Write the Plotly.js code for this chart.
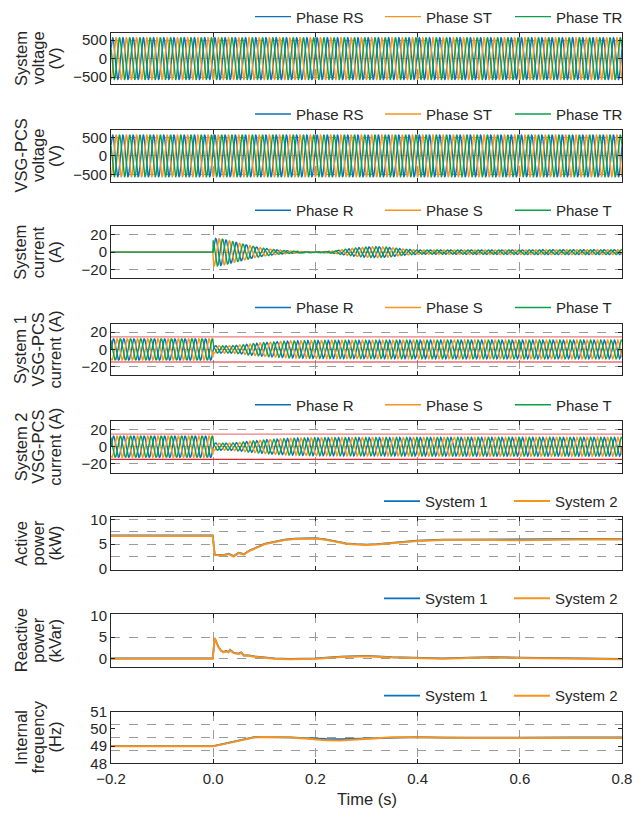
<!DOCTYPE html>
<html><head><meta charset="utf-8">
<script src="https://cdn.plot.ly/plotly-3.0.1.min.js"></script>
<style>html,body{margin:0;padding:0;background:#fff}</style>
</head><body><div id="chart" style="width:641px;height:814px"></div>
<script>
// ---------------- DATA ----------------
const timeRange = [-0.2, 0.8];                 // s
const timeTicks = [-0.2, 0.0, 0.2, 0.4, 0.6, 0.8];
const gridFrequency = 50;                       // Hz, carrier of the AC waveforms
const phaseNamesV = ['Phase RS', 'Phase ST', 'Phase TR'];
const phaseNamesI = ['Phase R', 'Phase S', 'Phase T'];
const systemNames = ['System 1', 'System 2'];

// peak envelopes of the three-phase waveforms
const sysVoltTime = [-0.2, 0.8];
const sysVoltPeak = [565, 565];                 // V
const vsgVoltTime = [-0.2, 0.8];
const vsgVoltPeak = [565, 565];                 // V

const sysCurTime = [-0.2, -0.0005, 0.0, 0.01, 0.02, 0.04, 0.06, 0.08, 0.10, 0.12, 0.14, 0.16, 0.18, 0.20, 0.22, 0.24, 0.26, 0.28, 0.30, 0.32, 0.34, 0.36, 0.38, 0.40, 0.45, 0.50, 0.60, 0.70, 0.80];
const sysCurPeak = [0, 0, 16, 16, 15, 12, 9.3, 6.5, 4.5, 3, 2, 1.2, 0.8, 0.6, 1, 2, 3.5, 5, 6, 6.4, 5.8, 4.5, 3.2, 2.6, 2.5, 2.6, 2.7, 2.8, 2.8];

const vsg1CurTime = [-0.2, -0.0005, 0.0, 0.01, 0.03, 0.05, 0.07, 0.10, 0.13, 0.15, 0.20, 0.25, 0.30, 0.40, 0.50, 0.60, 0.70, 0.80];
const vsg1CurPeak = [12.3, 12.3, 4.6, 4.2, 4.2, 5.0, 6.4, 8.0, 9.2, 9.9, 10.4, 10.6, 10.6, 10.8, 10.9, 10.9, 10.9, 10.9];
const vsg2CurTime = [-0.2, -0.0005, 0.0, 0.01, 0.03, 0.05, 0.07, 0.10, 0.13, 0.15, 0.20, 0.25, 0.30, 0.40, 0.50, 0.60, 0.70, 0.80];
const vsg2CurPeak = [12.3, 12.3, 4.5, 4.1, 4.1, 4.9, 6.3, 7.9, 9.1, 9.8, 10.4, 10.6, 10.6, 10.8, 10.9, 10.9, 10.9, 10.9];
const currentLimit = 14.6;                      // A (red limit lines)

// active power (kW)
const activeTime = [-0.2, -0.1, -0.001, 0.003, 0.01, 0.02, 0.03, 0.04, 0.05, 0.06, 0.07, 0.08, 0.09, 0.10, 0.12, 0.14, 0.16, 0.18, 0.20, 0.22, 0.24, 0.26, 0.28, 0.30, 0.32, 0.34, 0.36, 0.38, 0.40, 0.45, 0.50, 0.55, 0.60, 0.65, 0.70, 0.75, 0.80];
const activeSys1 = [6.8, 6.8, 6.8, 2.9, 2.8, 2.8, 3.1, 2.6, 3.3, 3.0, 3.7, 4.1, 4.6, 5.1, 5.6, 5.95, 6.15, 6.25, 6.25, 6.0, 5.6, 5.2, 5.05, 4.95, 5.05, 5.2, 5.4, 5.6, 5.75, 5.95, 6.0, 5.95, 5.95, 6.0, 6.1, 6.1, 6.05];
const activeSys2 = [6.7, 6.7, 6.7, 2.8, 2.7, 2.7, 3.0, 2.5, 3.2, 2.9, 3.6, 4.0, 4.5, 5.0, 5.5, 5.85, 6.05, 6.15, 6.15, 5.9, 5.5, 5.1, 4.95, 4.85, 4.95, 5.1, 5.3, 5.5, 5.65, 5.85, 5.9, 5.85, 5.8, 5.9, 6.0, 6.0, 5.95];

// reactive power (kVar)
const reactiveTime = [-0.2, -0.001, 0.003, 0.006, 0.01, 0.015, 0.02, 0.025, 0.03, 0.033, 0.04, 0.05, 0.055, 0.06, 0.07, 0.08, 0.09, 0.10, 0.12, 0.15, 0.20, 0.25, 0.30, 0.35, 0.40, 0.45, 0.50, 0.55, 0.60, 0.70, 0.80];
const reactiveSys1 = [0.1, 0.1, 4.7, 3.8, 2.8, 1.9, 1.6, 1.8, 1.6, 2.1, 1.4, 1.2, 1.5, 0.8, 0.8, 0.6, 0.5, 0.3, 0.1, 0.0, 0.1, 0.5, 0.7, 0.4, 0.2, 0.1, 0.3, 0.4, 0.3, 0.2, 0.0];
const reactiveSys2 = [0.0, 0.0, 4.8, 3.8, 2.8, 1.9, 1.5, 1.7, 1.5, 2.0, 1.3, 1.1, 1.4, 0.7, 0.7, 0.5, 0.4, 0.2, 0.0, -0.1, 0.0, 0.4, 0.6, 0.3, 0.1, 0.0, 0.2, 0.3, 0.2, 0.1, -0.1];

// internal frequency (Hz)
const freqTime = [-0.2, 0.0, 0.02, 0.04, 0.06, 0.08, 0.10, 0.12, 0.15, 0.18, 0.20, 0.22, 0.25, 0.28, 0.30, 0.33, 0.35, 0.40, 0.45, 0.50, 0.60, 0.70, 0.80];
const freqSys1 = [49.0, 49.0, 49.13, 49.27, 49.42, 49.52, 49.53, 49.53, 49.51, 49.47, 49.44, 49.42, 49.41, 49.43, 49.46, 49.50, 49.52, 49.52, 49.50, 49.49, 49.50, 49.51, 49.51];
const freqSys2 = [49.0, 49.0, 49.12, 49.25, 49.40, 49.50, 49.53, 49.53, 49.50, 49.44, 49.38, 49.34, 49.33, 49.38, 49.43, 49.49, 49.52, 49.52, 49.49, 49.47, 49.48, 49.48, 49.48];

// ---------------- STYLE / LAYOUT ----------------
const W = 641, H = 814;
const plotLeft = 111, plotRight = 622;
const panelTop = [27, 125, 222, 320, 418, 515, 613, 711];
const panelBot = [79, 177, 274, 372, 470, 568, 666, 763];
const colors = ['#0A72BA', '#F7931E', '#0DA04B'];
const txt = '#262626';
const FONT = 'Liberation Sans, Arial, Helvetica, sans-serif';

// sample grid for the AC waveforms
const sampleStep = 0.0004;
const tSamples = [];
for (let i = 0; ; i++) { const t = timeRange[0] + i * sampleStep; if (t > timeRange[1] + 1e-9) break; tSamples.push(+t.toFixed(5)); }
function envAt(tt, vv, t) {
  if (t <= tt[0]) return vv[0];
  for (let i = 1; i < tt.length; i++) if (t <= tt[i]) { const f = (t - tt[i-1]) / (tt[i] - tt[i-1]); return vv[i-1] + f * (vv[i] - vv[i-1]); }
  return vv[vv.length - 1];
}
function threePhase(tt, vv, k, phase0) {
  return tSamples.map(t => envAt(tt, vv, t) * Math.sin(2 * Math.PI * gridFrequency * t + phase0 - k * 2 * Math.PI / 3));
}

const traces = [];
function addThree(idx, tt, vv, names, phase0) {
  for (let k = 0; k < 3; k++) traces.push({
    type: 'scatter', mode: 'lines', x: tSamples, y: threePhase(tt, vv, k, phase0), name: names[k],
    xaxis: 'x' + (idx === 1 ? '' : idx), yaxis: 'y' + (idx === 1 ? '' : idx),
    line: {color: colors[k], width: 1.4}, legend: idx === 1 ? 'legend' : 'legend' + idx, hoverinfo: 'skip'
  });
}
function addTwo(idx, tt, v1, v2) {
  [v1, v2].forEach((v, k) => traces.push({
    type: 'scatter', mode: 'lines', x: tt, y: v, name: systemNames[k],
    xaxis: 'x' + idx, yaxis: 'y' + idx,
    line: {color: colors[k], width: k === 0 ? 1.7 : 2}, legend: 'legend' + idx
  }));
}
function addLimit(idx) {
  [[currentLimit, '#F07C7C'], [-currentLimit, '#E3262B']].forEach(([v, c]) => traces.push({
    type: 'scatter', mode: 'lines', x: timeRange, y: [v, v], showlegend: false,
    xaxis: 'x' + idx, yaxis: 'y' + idx, line: {color: c, width: 1.2}, hoverinfo: 'skip'
  }));
}
addThree(1, sysVoltTime, sysVoltPeak, phaseNamesV, Math.PI / 6);
addThree(2, vsgVoltTime, vsgVoltPeak, phaseNamesV, Math.PI / 6);
addThree(3, sysCurTime, sysCurPeak, phaseNamesI, 0);
addThree(4, vsg1CurTime, vsg1CurPeak, phaseNamesI, 0);
addLimit(4);
addThree(5, vsg2CurTime, vsg2CurPeak, phaseNamesI, 0);
addLimit(5);
addTwo(6, activeTime, activeSys1, activeSys2);
addTwo(7, reactiveTime, reactiveSys1, reactiveSys2);
addTwo(8, freqTime, freqSys1, freqSys2);

const layout = {
  width: W, height: H, margin: {l: plotLeft, r: W - plotRight, t: 0, b: 0},
  paper_bgcolor: '#fff', plot_bgcolor: '#fff', font: {family: FONT, color: txt, size: 15},
  annotations: [], showlegend: true
};
const grid = {showgrid: true, gridcolor: '#9b9b9b', griddash: 'dash', gridwidth: 1};
const axBase = Object.assign({showline: true, linecolor: txt, linewidth: 1, mirror: 'ticks', ticks: 'inside', ticklen: 4,
  tickcolor: txt, zeroline: false, tickfont: {size: 15, color: txt, family: FONT}}, grid);
const yCfg = [
  {range: [-700, 700], tickvals: [-500, 0, 500]},
  {range: [-700, 700], tickvals: [-500, 0, 500]},
  {range: [-30, 30], tickvals: [-20, 0, 20]},
  {range: [-30, 30], tickvals: [-20, 0, 20]},
  {range: [-30, 30], tickvals: [-20, 0, 20]},
  {range: [-0.2, 10.5], tickvals: [0, 5, 10], minor: Object.assign({tick0: 0, dtick: 2.5}, grid)},
  {range: [-1.9, 10.2], tickvals: [0, 5, 10]},
  {range: [48, 51], tickvals: [48, 49, 50, 51], showgrid: false, minor: Object.assign({tick0: 48, dtick: 0.75}, grid)}
];
const yTitles = [
  ['System', 'voltage', '(V)'], ['VSG-PCS', 'voltage', '(V)'], ['System', 'current', '(A)'],
  ['System 1', 'VSG-PCS', 'current (A)'], ['System 2', 'VSG-PCS', 'current (A)'],
  ['Active', 'power', '(kW)'], ['Reactive', 'power', '(kVar)'], ['Internal', 'frequency', '(Hz)']
];
const legendNames = ['legend', 'legend2', 'legend3', 'legend4', 'legend5', 'legend6', 'legend7', 'legend8'];
const legendEntries = [3, 3, 3, 3, 3, 2, 2, 2];
const legendStartPx = 250, legendSlotPx = 129;
const titleX = [20.5, 38, 55];
for (let i = 0; i < 8; i++) {
  const n = i + 1, sfx = n === 1 ? '' : n;
  layout['xaxis' + sfx] = Object.assign({}, axBase, {
    domain: [0, 1], anchor: 'y' + sfx, range: timeRange, tickvals: timeTicks, tickformat: '.1f',
    showticklabels: n === 8, matches: n === 1 ? undefined : 'x'
  });
  if (n === 8) layout['xaxis' + sfx].ticklabelstandoff = 2;
  layout['yaxis' + sfx] = Object.assign({}, axBase, {
    domain: [1 - panelBot[i] / H, 1 - panelTop[i] / H], anchor: 'x' + sfx
  }, yCfg[i]);
  const startPx = legendStartPx + (3 - legendEntries[i]) * legendSlotPx;
  layout[legendNames[i]] = {
    orientation: 'h', x: (startPx - plotLeft) / (plotRight - plotLeft), xanchor: 'left',
    y: 1 - (panelTop[i] - 16) / H, yanchor: 'middle', bgcolor: 'rgba(0,0,0,0)',
    font: {size: 15, color: txt, family: FONT}, itemwidth: 36, entrywidth: 79, itemclick: false
  };
  yTitles[i].forEach((s, j) => layout.annotations.push({
    text: s, xref: 'paper', yref: 'y' + sfx + ' domain', x: (titleX[j] - plotLeft) / (plotRight - plotLeft), y: 0.5,
    xanchor: 'center', yanchor: 'middle', textangle: -90, showarrow: false, font: {size: 16.5, color: txt, family: FONT}
  }));
}
layout.annotations.push({text: 'Time (s)', xref: 'paper', yref: 'paper', x: 0.5, y: 1 - 799 / H,
  xanchor: 'center', yanchor: 'middle', showarrow: false, font: {size: 16.5, color: txt, family: FONT}});

Plotly.newPlot('chart', traces, layout, {staticPlot: true, displayModeBar: false});
</script></body></html>
